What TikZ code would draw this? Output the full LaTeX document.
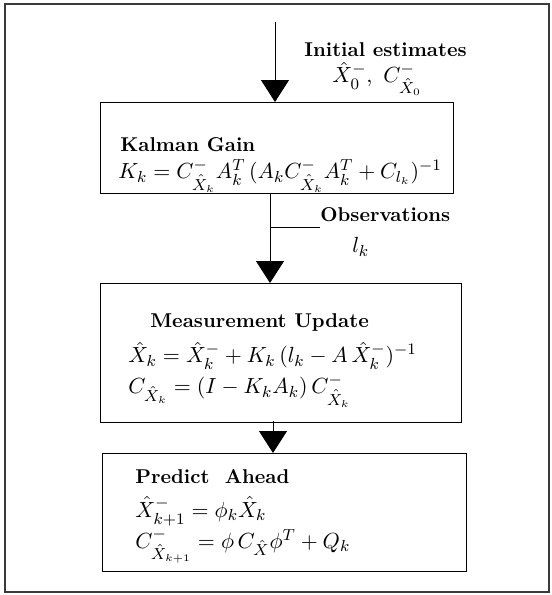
\documentclass[tikz,border=0pt]{standalone}
\usepackage{amsmath}
\usepackage{tikz}
\usetikzlibrary{arrows.meta,positioning,calc}
\definecolor{Frame}{HTML}{3A3A3A}
\newcommand{\Xh}{\hat{X}}
\tikzset{
  stage/.style={draw=black,line width=0.6pt,anchor=north west,inner sep=0pt},
  heading/.style={anchor=west,inner sep=0pt,font=\bfseries},
  formula/.style={anchor=west,inner sep=0pt,font=\fontsize{10.8}{13}\selectfont},
  arrow/.style={-{Triangle[length=11pt,width=14pt]},line width=0.5pt,draw=black},
  tick/.style={line width=0.4pt,draw=black}
}

\begin{document}
\begin{tikzpicture}[x=0.5pt,y=-0.5pt]
  \useasboundingbox (0,0) rectangle (552,595);
  \draw[Frame,line width=0.8pt] (5,4) rectangle (549,592);

  % stages
  \node[stage,minimum width=176.5pt,minimum height=45.5pt] (gain) at (100,102) {};
  \node[stage,minimum width=180.5pt,minimum height=69.5pt] (update) at (100,283) {};
  \node[stage,minimum width=182pt,minimum height=59pt] (predict) at (102,453) {};

  \node[heading] (gaintitle) at (120,145) {Kalman Gain};
  \node[formula] (gaineq) at (118,176) {$K_k = C^-_{\Xh_k}A_k^T\,(A_k C^-_{\Xh_k}A_k^T + C_{l_k})^{-1}$};

  \node[heading] (updatetitle) at (150,322) {Measurement Update};
  \node[formula] (updateeq1) at (128,356) {$\Xh_k = \Xh_k^- + K_k\,(l_k - A\,\Xh_k^-)^{-1}$};
  \node[formula] (updateeq2) at (128,391) {$C_{\Xh_k} = (I - K_k A_k)\,C^-_{\Xh_k}$};

  \node[heading] (predicttitle) at (135,477) {Predict\ \ Ahead};
  \node[formula] (predicteq1) at (135,511) {$\Xh^-_{k+1} = \phi_k\Xh_k$};
  \node[formula] (predicteq2) at (135,546) {$C^-_{\Xh_{k+1}} = \phi\, C_{\Xh}\phi^T + Q_k$};

  % inputs
  \node[heading] (initial) at (304,50) {Initial estimates};
  \node[formula] (initialeq) at (332,79) {$\Xh_0^-,\ C^-_{\Xh_0}$};
  \node[heading] (obs) at (320,215) {Observations};
  \node[formula] (obseq) at (352,247) {$l_k$};

  % flow
  \coordinate (start) at (275,22);
  \coordinate (gainout) at (270,193);
  \coordinate (updateout) at (273,421);
  \coordinate (branch) at (270,227);
  \draw[arrow] (start) -- (start |- gain.north);
  \draw[arrow] (gainout) -- (gainout |- update.north);
  \draw[arrow] (updateout) -- (updateout |- predict.north);
  \draw[tick] (branch) -- (branch -| obs.west);
\end{tikzpicture}
\end{document}
